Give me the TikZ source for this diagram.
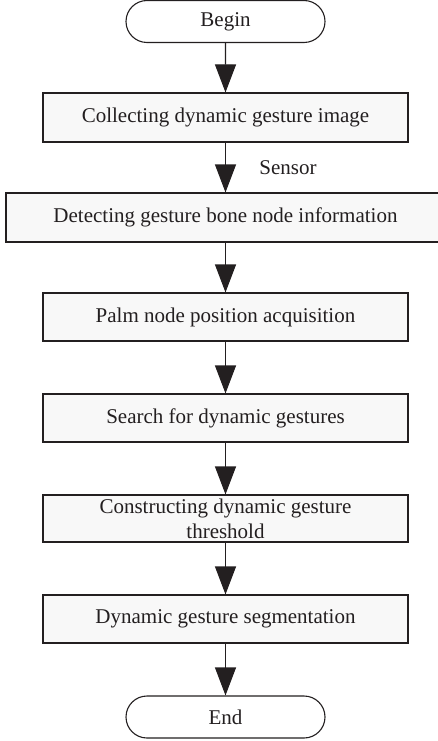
\documentclass[tikz,border=0pt]{standalone}
\usepackage{fontspec}
\setmainfont{Liberation Serif}
\usetikzlibrary{arrows.meta}
\usetikzlibrary{shapes.misc}
\usepackage{xcolor}
\definecolor{inkgray}{HTML}{231F20}
\definecolor{boxfill}{HTML}{F8F8F8}

\begin{document}
\begin{tikzpicture}[x=1pt, y=-1pt, font=\fontsize{21}{25}\selectfont, color=inkgray]
        \tikzstyle{stepbox}=[rectangle, draw=inkgray, line width=1.1pt, fill=boxfill, minimum width=365pt, minimum height=49pt, inner sep=0pt, align=center]
        \tikzstyle{termbox}=[rounded rectangle, draw=inkgray, line width=1.1pt, fill=white, minimum width=199pt, minimum height=42pt, inner sep=0pt]
        \tikzstyle{flow}=[line width=1.1pt, -{Triangle[width=21pt, length=28pt]}]

        % 图框大小
        \useasboundingbox (0,0) rectangle (438,741);

        % 起止框
        \node[termbox] (begin) at (225.5, 21.5) {Begin};
        \node[termbox] (end) at (225.5, 717) {End};

        % 步骤框
        \node[stepbox] (s1) at (225.5, 117.5) {Collecting dynamic gesture image};
        \node[stepbox, minimum width=439pt] (s2) at (225.5, 217.5) {Detecting gesture bone node information};
        \node[stepbox, minimum height=48pt] (s3) at (225.5, 317) {Palm node position acquisition};
        \node[stepbox, minimum height=48pt] (s4) at (225.5, 418) {Search for dynamic gestures};
        \node[stepbox, minimum height=47pt] (s5) at (225.5, 518.5) {Constructing dynamic gesture\\threshold};
        \node[stepbox, minimum height=48pt] (s6) at (225.5, 619) {Dynamic gesture segmentation};

        % 箭头
        \draw[flow] (s1) -- node[right=30pt] {Sensor} (s2);
        \foreach \a/\b in {begin/s1, s2/s3, s3/s4, s4/s5, s5/s6, s6/end} {
            \draw[flow] (\a) -- (\b);
        }
    \end{tikzpicture}
\end{document}
